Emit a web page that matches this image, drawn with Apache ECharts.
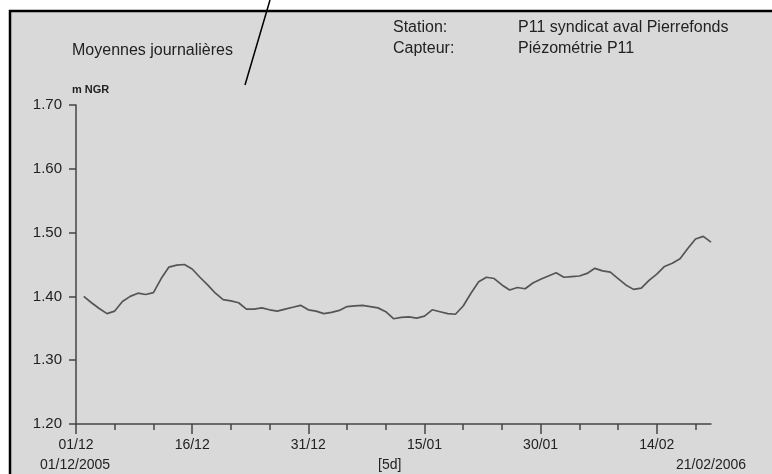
<!DOCTYPE html>
<html>
<head>
<meta charset="utf-8">
<script src="https://cdn.jsdelivr.net/npm/echarts@6/dist/echarts.min.js"></script>
<style>
  html, body { margin: 0; padding: 0; background: #fff; }
  #chart { width: 772px; height: 474px; }
</style>
</head>
<body>
<div id="chart"></div>
<script>
// day offset from 01/12/2005 (daily means)
let days = [];
for (let d = 1; d <= 82; d++) days.push(d);

let levels = [
  1.400, 1.390, 1.381, 1.373, 1.377, 1.392, 1.400, 1.405, 1.403, 1.406,
  1.428, 1.446, 1.449, 1.450, 1.443, 1.430, 1.418, 1.405, 1.395, 1.393,
  1.390, 1.380, 1.380, 1.382, 1.379, 1.377, 1.380, 1.383, 1.386, 1.379,
  1.377, 1.373, 1.375, 1.378, 1.384, 1.385, 1.386, 1.384, 1.382, 1.376,
  1.365, 1.367, 1.368, 1.366, 1.369, 1.379, 1.376, 1.373, 1.372, 1.385,
  1.405, 1.423, 1.430, 1.428, 1.418, 1.410, 1.414, 1.412, 1.421, 1.427,
  1.432, 1.437, 1.430, 1.431, 1.432, 1.436, 1.444, 1.440, 1.438, 1.428,
  1.418, 1.411, 1.413, 1.425, 1.435, 1.447, 1.452, 1.459, 1.475, 1.490,
  1.494, 1.485
];

let majorTicks = [0, 15, 30, 45, 60, 75];
let majorLabels = ['01/12', '16/12', '31/12', '15/01', '30/01', '14/02'];
let minorTicks = [5, 10, 20, 25, 35, 40, 50, 55, 65, 70, 80];

let chart = echarts.init(document.getElementById('chart'));
let font = 'Liberation Sans, Arial, sans-serif';

let option = {
    backgroundColor: '#ffffff',
    animation: false,
    textStyle: { fontFamily: font },
    grid: { left: 76, right: 61, top: 105, bottom: 50 },
    graphic: [
        { type: 'rect', z: -10, shape: { x: 10, y: 11, width: 780, height: 480 },
          style: { fill: '#d9d9d9', stroke: '#000', lineWidth: 2.5 } },
        { type: 'line', z: 10, shape: { x1: 270, y1: 0, x2: 245, y2: 85 },
          style: { stroke: '#000', lineWidth: 1.5 } },
        { type: 'text', left: 72, top: 43, style: { text: 'Moyennes journalières', font: '16px ' + font, fill: '#222' } },
        { type: 'text', left: 393, top: 20, style: { text: 'Station:', font: '16px ' + font, fill: '#222' } },
        { type: 'text', left: 393, top: 41, style: { text: 'Capteur:', font: '16px ' + font, fill: '#222' } },
        { type: 'text', left: 518, top: 20, style: { text: 'P11 syndicat aval Pierrefonds', font: '16px ' + font, fill: '#222' } },
        { type: 'text', left: 518, top: 41, style: { text: 'Piézométrie P11', font: '16px ' + font, fill: '#222' } },
        { type: 'text', left: 72, top: 84, style: { text: 'm NGR', font: 'bold 11px ' + font, fill: '#222' } },
        { type: 'text', left: 40, top: 458, style: { text: '01/12/2005', font: '14px ' + font, fill: '#222' } },
        { type: 'text', left: 378, top: 458, style: { text: '[5d]', font: '14px ' + font, fill: '#222' } },
        { type: 'text', left: 676, top: 458, style: { text: '21/02/2006', font: '14px ' + font, fill: '#222' } }
    ],
    xAxis: [{
        type: 'value',
        min: 0,
        max: 82,
        position: 'bottom',
        axisLine: { lineStyle: { color: '#444', width: 1.5 } },
        axisTick: { customValues: minorTicks, length: 6, lineStyle: { color: '#444', width: 1.5 } },
        axisLabel: { show: false },
        splitLine: { show: false }
    }, {
        type: 'value',
        min: 0,
        max: 82,
        position: 'bottom',
        axisLine: { show: false },
        axisTick: { customValues: majorTicks, length: 10, lineStyle: { color: '#444', width: 1.5 } },
        axisLabel: {
            customValues: majorTicks,
            margin: 14,
            fontSize: 14,
            color: '#222',
            formatter: function (value) {
                return majorLabels[majorTicks.indexOf(value)];
            }
        },
        splitLine: { show: false }
    }],
    yAxis: {
        type: 'value',
        min: 1.2,
        max: 1.7,
        interval: 0.1,
        axisLine: { show: true, lineStyle: { color: '#444', width: 1.5 } },
        axisTick: { show: true, length: 7, lineStyle: { color: '#444', width: 1.5 } },
        axisLabel: {
            margin: 14,
            fontSize: 15,
            color: '#222',
            formatter: function (value) { return value.toFixed(2); }
        },
        splitLine: { show: false }
    },
    series: [{
        type: 'line',
        xAxisIndex: 0,
        showSymbol: false,
        lineStyle: { color: '#555555', width: 1.7 },
        data: days.map(function (d, i) { return [d, levels[i]]; })
    }]
};
chart.setOption(option);
</script>
</body>
</html>
